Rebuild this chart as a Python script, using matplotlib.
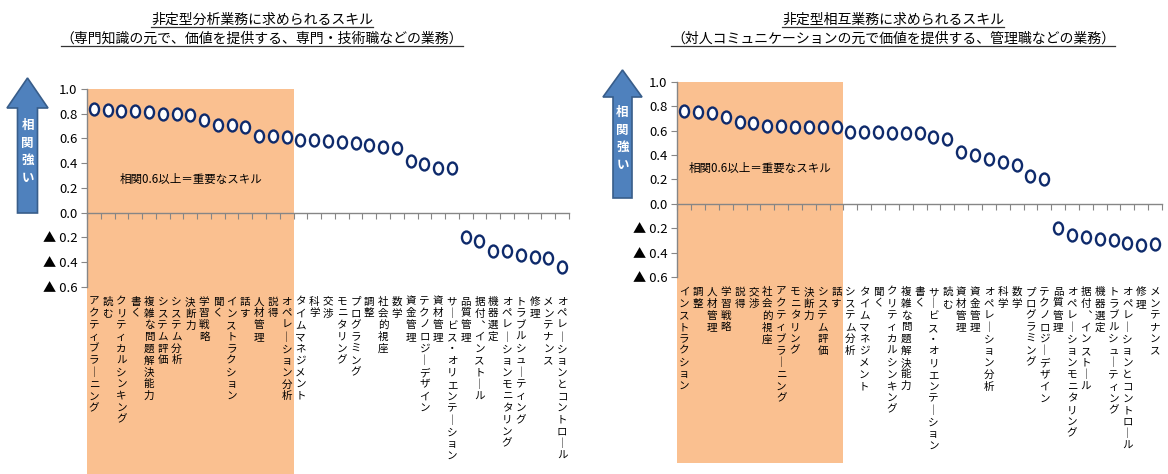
import numpy as np
import matplotlib
matplotlib.use("Agg")
import matplotlib.pyplot as plt
from matplotlib.path import Path
from matplotlib.patches import Rectangle, Polygon
from matplotlib.lines import Line2D
import matplotlib.transforms as mtransforms

plt.rcParams['font.family'] = ['Noto Sans CJK JP', 'DejaVu Sans']

# ---- data -------------------------------------------------------------
left_title = ["非定型分析業務に求められるスキル",
              "（専門知識の元で、価値を提供する、専門・技術職などの業務）"]
left_skills = ["アクティブラーニング", "読む", "クリティカルシンキング", "書く",
               "複雑な問題解決能力", "システム評価", "システム分析", "決断力",
               "学習戦略", "聞く", "インストラクション", "話す", "人材管理", "説得",
               "オペレーション分析", "タイムマネジメント", "科学", "交渉",
               "モニタリング", "プログラミング", "調整", "社会的視座", "数学",
               "資金管理", "テクノロジーデザイン", "資材管理",
               "サービス・オリエンテーション", "品質管理", "据付、インストール",
               "機器選定", "オペレーションモニタリング", "トラブルシューティング",
               "修理", "メンテナンス", "オペレーションとコントロール"]
left_corr = [0.84, 0.83, 0.82, 0.82, 0.81, 0.80, 0.80, 0.79, 0.75, 0.71,
             0.71, 0.69, 0.62, 0.62, 0.61, 0.59, 0.59, 0.58, 0.57, 0.56,
             0.55, 0.53, 0.52, 0.42, 0.39, 0.36, 0.36, -0.20, -0.23, -0.31,
             -0.31, -0.34, -0.36, -0.37, -0.44]

right_title = ["非定型相互業務に求められるスキル",
               "（対人コミュニケーションの元で価値を提供する、管理職などの業務）"]
right_skills = ["インストラクション", "調整", "人材管理", "学習戦略", "説得", "交渉",
                "社会的視座", "アクティブラーニング", "モニタリング", "決断力",
                "システム評価", "話す", "システム分析", "タイムマネジメント", "聞く",
                "クリティカルシンキング", "複雑な問題解決能力", "書く",
                "サービス・オリエンテーション", "読む", "資材管理", "資金管理",
                "オペレーション分析", "科学", "数学", "プログラミング",
                "テクノロジーデザイン", "品質管理", "オペレーションモニタリング",
                "据付、インストール", "機器選定", "トラブルシューティング",
                "オペレーションとコントロール", "修理", "メンテナンス"]
right_corr = [0.76, 0.75, 0.74, 0.71, 0.67, 0.66, 0.64, 0.64, 0.63, 0.63,
              0.63, 0.63, 0.59, 0.59, 0.59, 0.58, 0.58, 0.58, 0.55, 0.53,
              0.42, 0.40, 0.37, 0.34, 0.32, 0.23, 0.20, -0.20, -0.26, -0.27,
              -0.29, -0.30, -0.32, -0.34, -0.33]

y_ticks = [1.0, 0.8, 0.6, 0.4, 0.2, 0.0, -0.2, -0.4, -0.6]
threshold = 0.6
note_text = "相関0.6以上＝重要なスキル"
arrow_text = "相関強い"

# ---- style ------------------------------------------------------------
W, H = 1168, 474
SHADE = '#FAC090'
GRID_GRAY = '#868686'
MARK_EDGE = '#0E2A6B'
ARROW_FC = '#4F81BD'
ARROW_EC = '#385D8A'

fig = plt.figure(figsize=(W / 100, H / 100), dpi=100)

circ = Path.unit_circle()
ellipse_marker = Path(circ.vertices * np.array([0.76, 1.0]), circ.codes)

VERTICAL_FORMS = {"ー": "｜", "、": "︑"}


def vertical(s):
    return "\n".join(VERTICAL_FORMS.get(c, c) for c in s)


def tick_fmt(v):
    v = round(v, 1)
    return f"{v:.1f}" if v >= 0 else f"▲ {abs(v):.1f}"


def px_rect(x0, y0, x1, y1):
    """Figure-fraction rect from pixel box (y measured from top)."""
    return [x0 / W, 1 - y1 / H, (x1 - x0) / W, (y1 - y0) / H]


def fig_xy(x, y):
    return x / W, 1 - y / H


def draw_arrow(cx, top, head_base, head_half, shaft_half, bottom, text_cy):
    pts = [(cx, top), (cx + head_half, head_base), (cx + shaft_half, head_base),
           (cx + shaft_half, bottom), (cx - shaft_half, bottom),
           (cx - shaft_half, head_base), (cx - head_half, head_base)]
    poly = Polygon([fig_xy(*p) for p in pts], closed=True, fc=ARROW_FC,
                   ec=ARROW_EC, lw=1.2, transform=fig.transFigure)
    fig.add_artist(poly)
    fig.text(*fig_xy(cx, text_cy), "\n".join(arrow_text), color='white',
             fontsize=9, fontweight='bold', ha='center', va='center',
             linespacing=1.45)


def draw_panel(box, skills, corr, shade_bottom_px, note_pos, title_lines,
               title_cx):
    ax = fig.add_axes(px_rect(*box))
    n = len(skills)
    x = np.arange(1, n + 1)
    ax.set_xlim(0.5, n + 0.5)
    ax.set_ylim(-0.6, 1.0)
    ax.patch.set_alpha(0)

    # shaded block over the skills at or above the threshold
    n_hi = int(np.sum(np.asarray(corr) >= threshold))
    ax_h = box[3] - box[1]
    y_bot = (box[3] - shade_bottom_px) / ax_h
    ax.add_patch(Rectangle((0.5, y_bot), n_hi, 1 - y_bot,
                           transform=ax.get_xaxis_transform(), fc=SHADE,
                           ec='none', clip_on=False, zorder=0))

    for s in ['top', 'right']:
        ax.spines[s].set_visible(False)
    ax.spines['left'].set_color(GRID_GRAY)
    ax.spines['left'].set_linewidth(1.0)
    ax.spines['bottom'].set_position(('data', 0))
    ax.spines['bottom'].set_color(GRID_GRAY)
    ax.spines['bottom'].set_linewidth(1.0)

    ax.set_yticks(y_ticks)
    ax.set_yticklabels([tick_fmt(v) for v in y_ticks])
    ax.tick_params(axis='y', direction='out', length=4, color=GRID_GRAY,
                   labelsize=9.5, pad=3)
    ax.set_xticks(np.arange(0.5, n + 1.0))
    ax.tick_params(axis='x', direction='out', length=4, color=GRID_GRAY,
                   labelbottom=False)

    ax.plot(x, corr, linestyle='none', marker=ellipse_marker, ms=8.6,
            mfc='white', mec=MARK_EDGE, mew=1.7, zorder=3, clip_on=False)

    lab_tr = mtransforms.offset_copy(ax.get_xaxis_transform(), fig=fig,
                                     y=-10, units='dots')
    for xi, s in zip(x, skills):
        ax.text(xi, 0, vertical(s), transform=lab_tr, ha='center', va='top',
                fontsize=7.6, linespacing=1.22, color='black', zorder=4)

    ax.text(*note_pos, note_text, transform=ax.transAxes, ha='center',
            va='center', fontsize=8.3, zorder=4)

    # two-line underlined title
    for yc, line in zip((20, 39), title_lines):
        t = fig.text(*fig_xy(title_cx, yc), line, ha='center', va='center',
                     fontsize=10, color='black')
        fig.canvas.draw()
        bb = t.get_window_extent()
        yl = bb.y0 + 0.5
        fig.add_artist(Line2D([bb.x0 / W, bb.x1 / W], [yl / H, yl / H],
                              color='#333333', lw=0.9,
                              transform=fig.transFigure))
    return ax


draw_panel((87, 89, 569, 286.7), left_skills, left_corr, 474,
           (0.215, 0.545), left_title, 262)
draw_panel((677.3, 81.7, 1162, 277), right_skills, right_corr, 462.7,
           (0.171, 0.558), right_title, 893)

draw_arrow(27.5, 78, 108, 20.5, 10, 213, 152)
draw_arrow(622.5, 70, 97, 19.5, 9.5, 198, 139)

fig.savefig("out.png", dpi=100)
